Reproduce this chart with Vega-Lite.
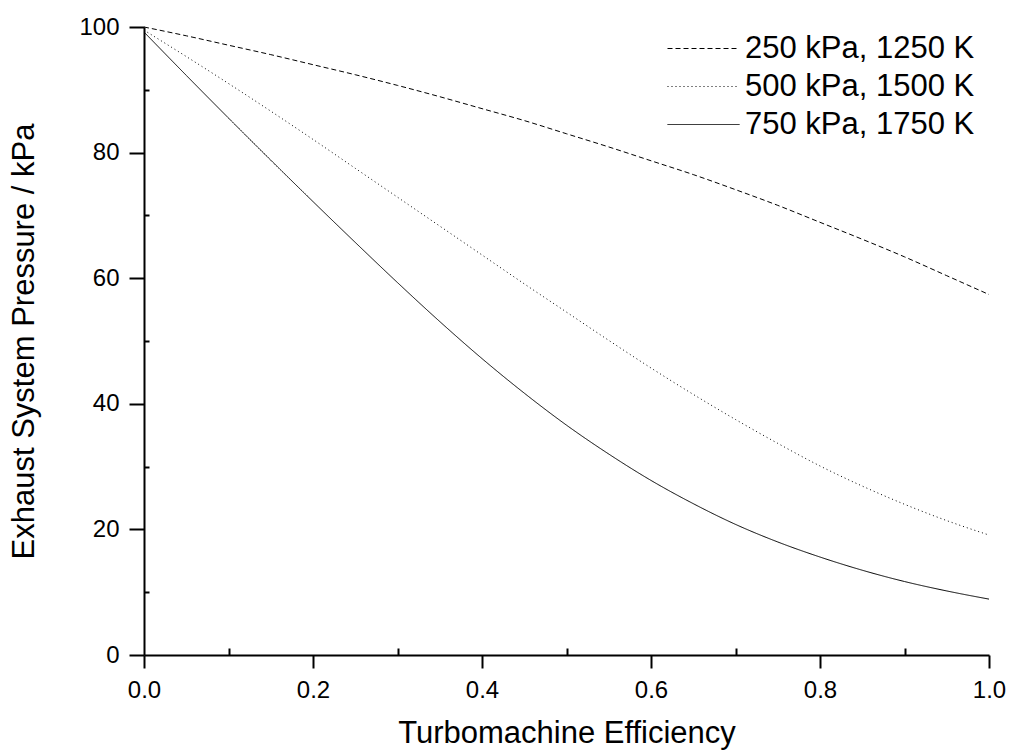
{
  "$schema": "https://vega.github.io/schema/vega-lite/v6.json",
  "width": 845,
  "height": 628,
  "autosize": {"type": "none"},
  "padding": {"left": 144, "top": 27, "right": 21, "bottom": 96},
  "background": "white",
  "config": {
    "view": {"stroke": null},
    "font": "Liberation Sans"
  },
  "data": {
    "values": [
      {"eff": 0.0, "p": 100.0, "series": "250 kPa, 1250 K"},
      {"eff": 0.05, "p": 98.6, "series": "250 kPa, 1250 K"},
      {"eff": 0.1, "p": 97.1, "series": "250 kPa, 1250 K"},
      {"eff": 0.15, "p": 95.6, "series": "250 kPa, 1250 K"},
      {"eff": 0.2, "p": 94.0, "series": "250 kPa, 1250 K"},
      {"eff": 0.25, "p": 92.4, "series": "250 kPa, 1250 K"},
      {"eff": 0.3, "p": 90.7, "series": "250 kPa, 1250 K"},
      {"eff": 0.35, "p": 88.9, "series": "250 kPa, 1250 K"},
      {"eff": 0.4, "p": 87.0, "series": "250 kPa, 1250 K"},
      {"eff": 0.45, "p": 85.1, "series": "250 kPa, 1250 K"},
      {"eff": 0.5, "p": 83.0, "series": "250 kPa, 1250 K"},
      {"eff": 0.55, "p": 80.9, "series": "250 kPa, 1250 K"},
      {"eff": 0.6, "p": 78.7, "series": "250 kPa, 1250 K"},
      {"eff": 0.65, "p": 76.5, "series": "250 kPa, 1250 K"},
      {"eff": 0.7, "p": 74.1, "series": "250 kPa, 1250 K"},
      {"eff": 0.75, "p": 71.6, "series": "250 kPa, 1250 K"},
      {"eff": 0.8, "p": 68.9, "series": "250 kPa, 1250 K"},
      {"eff": 0.85, "p": 66.2, "series": "250 kPa, 1250 K"},
      {"eff": 0.9, "p": 63.4, "series": "250 kPa, 1250 K"},
      {"eff": 0.95, "p": 60.4, "series": "250 kPa, 1250 K"},
      {"eff": 1.0, "p": 57.4, "series": "250 kPa, 1250 K"},
      {"eff": 0.0, "p": 99.5, "series": "500 kPa, 1500 K"},
      {"eff": 0.05, "p": 95.3, "series": "500 kPa, 1500 K"},
      {"eff": 0.1, "p": 91.0, "series": "500 kPa, 1500 K"},
      {"eff": 0.15, "p": 86.6, "series": "500 kPa, 1500 K"},
      {"eff": 0.2, "p": 82.1, "series": "500 kPa, 1500 K"},
      {"eff": 0.25, "p": 77.5, "series": "500 kPa, 1500 K"},
      {"eff": 0.3, "p": 72.9, "series": "500 kPa, 1500 K"},
      {"eff": 0.35, "p": 68.3, "series": "500 kPa, 1500 K"},
      {"eff": 0.4, "p": 63.7, "series": "500 kPa, 1500 K"},
      {"eff": 0.45, "p": 59.1, "series": "500 kPa, 1500 K"},
      {"eff": 0.5, "p": 54.6, "series": "500 kPa, 1500 K"},
      {"eff": 0.55, "p": 50.1, "series": "500 kPa, 1500 K"},
      {"eff": 0.6, "p": 45.7, "series": "500 kPa, 1500 K"},
      {"eff": 0.65, "p": 41.5, "series": "500 kPa, 1500 K"},
      {"eff": 0.7, "p": 37.5, "series": "500 kPa, 1500 K"},
      {"eff": 0.75, "p": 33.7, "series": "500 kPa, 1500 K"},
      {"eff": 0.8, "p": 30.1, "series": "500 kPa, 1500 K"},
      {"eff": 0.85, "p": 26.9, "series": "500 kPa, 1500 K"},
      {"eff": 0.9, "p": 24.0, "series": "500 kPa, 1500 K"},
      {"eff": 0.95, "p": 21.4, "series": "500 kPa, 1500 K"},
      {"eff": 1.0, "p": 19.1, "series": "500 kPa, 1500 K"},
      {"eff": 0.0, "p": 99.2, "series": "750 kPa, 1750 K"},
      {"eff": 0.05, "p": 92.3, "series": "750 kPa, 1750 K"},
      {"eff": 0.1, "p": 85.5, "series": "750 kPa, 1750 K"},
      {"eff": 0.15, "p": 78.8, "series": "750 kPa, 1750 K"},
      {"eff": 0.2, "p": 72.2, "series": "750 kPa, 1750 K"},
      {"eff": 0.25, "p": 65.7, "series": "750 kPa, 1750 K"},
      {"eff": 0.3, "p": 59.3, "series": "750 kPa, 1750 K"},
      {"eff": 0.35, "p": 53.1, "series": "750 kPa, 1750 K"},
      {"eff": 0.4, "p": 47.2, "series": "750 kPa, 1750 K"},
      {"eff": 0.45, "p": 41.7, "series": "750 kPa, 1750 K"},
      {"eff": 0.5, "p": 36.6, "series": "750 kPa, 1750 K"},
      {"eff": 0.55, "p": 32.0, "series": "750 kPa, 1750 K"},
      {"eff": 0.6, "p": 27.8, "series": "750 kPa, 1750 K"},
      {"eff": 0.65, "p": 24.1, "series": "750 kPa, 1750 K"},
      {"eff": 0.7, "p": 20.8, "series": "750 kPa, 1750 K"},
      {"eff": 0.75, "p": 18.0, "series": "750 kPa, 1750 K"},
      {"eff": 0.8, "p": 15.6, "series": "750 kPa, 1750 K"},
      {"eff": 0.85, "p": 13.5, "series": "750 kPa, 1750 K"},
      {"eff": 0.9, "p": 11.7, "series": "750 kPa, 1750 K"},
      {"eff": 0.95, "p": 10.2, "series": "750 kPa, 1750 K"},
      {"eff": 1.0, "p": 8.9, "series": "750 kPa, 1750 K"}
    ]
  },
  "mark": {"type": "line", "stroke": "black", "strokeWidth": 1, "interpolate": "monotone"},
  "encoding": {
    "x": {
      "field": "eff",
      "type": "quantitative",
      "scale": {"domain": [0, 1], "nice": false, "zero": false},
      "axis": {
        "title": "Turbomachine Efficiency",
        "titleFont": "Liberation Sans",
        "titleFontSize": 31,
        "titleFontWeight": "normal",
        "titleColor": "black",
        "titlePadding": 16,
        "values": [0, 0.1, 0.2, 0.3, 0.4, 0.5, 0.6, 0.7, 0.8, 0.9, 1],
        "labelExpr": "round(datum.value*10)%2==0 ? format(datum.value, '.1f') : ''",
        "labelFont": "Liberation Sans",
        "labelFontSize": 24,
        "labelColor": "black",
        "labelFlush": false,
        "labelOverlap": false,
        "labelPadding": 10,
        "grid": false,
        "domainColor": "black",
        "domainWidth": 2,
        "tickColor": "black",
        "tickWidth": 2,
        "tickSize": {"condition": {"test": "round(datum.value*10)%2!=0", "value": -7}, "value": 13},
        "encode": {"ticks": {"update": {"y": {"signal": "round(datum.value*10)%2==0 ? -13 : 0"}}}}
      }
    },
    "y": {
      "field": "p",
      "type": "quantitative",
      "scale": {"domain": [0, 100], "nice": false},
      "axis": {
        "title": "Exhaust System Pressure / kPa",
        "titleFont": "Liberation Sans",
        "titleFontSize": 31,
        "titleFontWeight": "normal",
        "titleColor": "black",
        "titlePadding": 38,
        "values": [0, 10, 20, 30, 40, 50, 60, 70, 80, 90, 100],
        "labelExpr": "datum.value%20==0 ? datum.label : ''",
        "labelFont": "Liberation Sans",
        "labelFontSize": 24,
        "labelColor": "black",
        "labelFlush": false,
        "labelOverlap": false,
        "labelPadding": 10,
        "grid": false,
        "domainColor": "black",
        "domainWidth": 2,
        "tickColor": "black",
        "tickWidth": 2,
        "tickSize": {"condition": {"test": "datum.value%20!=0", "value": -5}, "value": 15},
        "encode": {"ticks": {"update": {"x": {"signal": "datum.value==100 ? 12 : 0"}}}}
      }
    },
    "strokeDash": {
      "field": "series",
      "type": "nominal",
      "scale": {
        "domain": ["250 kPa, 1250 K", "500 kPa, 1500 K", "750 kPa, 1750 K"],
        "range": [[5, 3], [1, 3], [1, 0]]
      },
      "legend": {
        "title": null,
        "orient": "none",
        "legendX": 544,
        "legendY": 6,
        "symbolType": "M-3,0H3",
        "symbolSize": 576,
        "symbolStrokeColor": "black",
        "symbolStrokeWidth": 1,
        "labelFont": "Liberation Sans",
        "labelFontSize": 31,
        "labelColor": "black",
        "labelOffset": 26,
        "labelLimit": 400,
        "rowPadding": 6
      }
    }
  }
}
